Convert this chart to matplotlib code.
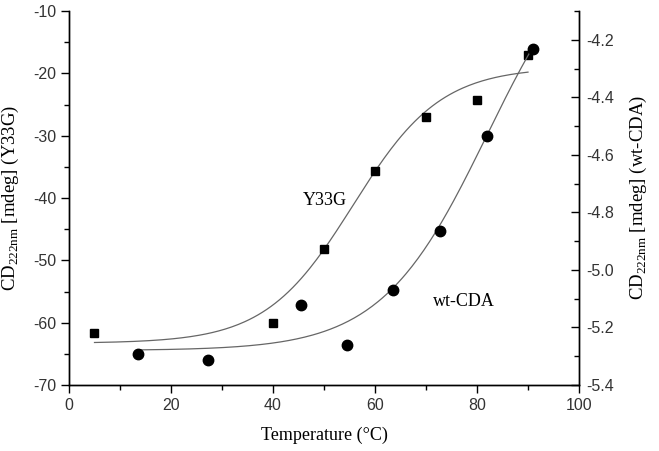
"""Thermal unfolding of Y33G and wt-CDA followed by CD at 222 nm."""

import matplotlib

matplotlib.use("Agg")
import matplotlib.pyplot as plt
import matplotlib.ticker as mticker
import numpy as np

# Y33G (left axis), squares
y33g_temp = [5, 40, 50, 60, 70, 80, 90]
y33g_cd = [-61.7, -60.0, -48.2, -35.7, -27.0, -24.3, -17.1]

# wt-CDA (right axis), circles
wt_temp = [13.5, 27.3, 45.5, 54.5, 63.5, 72.7, 81.9, 91.0]
wt_cd = [-5.293, -5.313, -5.123, -5.261, -5.071, -4.863, -4.533, -4.232]

# Boltzmann fit parameters: A1, A2, x0, dx
y33g_fit = (-63.3, -19.0, 55.7, 8.6)
y33g_fit_range = (5, 90)
wt_fit = (-5.28, -3.78, 82.0, 10.4)
wt_fit_range = (13.5, 91)


def boltzmann(x, a1, a2, x0, dx):
    return a2 + (a1 - a2) / (1 + np.exp((x - x0) / dx))


SERIF = ["Liberation Serif", "DejaVu Serif"]
SANS = ["Liberation Sans", "DejaVu Sans"]

plt.rcParams["axes.unicode_minus"] = False

fig = plt.figure(figsize=(6.59, 4.51), dpi=100)
ax = fig.add_axes([0.1047, 0.1463, 0.7739, 0.8293])
ax2 = ax.twinx()

# fitted curves
xs = np.linspace(*y33g_fit_range, 200)
ax.plot(xs, boltzmann(xs, *y33g_fit), color="#666666", lw=0.9, zorder=2)
xw = np.linspace(*wt_fit_range, 200)
ax2.plot(xw, boltzmann(xw, *wt_fit), color="#666666", lw=0.9, zorder=2)

# measured points
ax.plot(y33g_temp, y33g_cd, "s", color="black", ms=5.5, zorder=3)
ax2.plot(wt_temp, wt_cd, "o", color="black", ms=7.5, zorder=3)

ax.set_xlim(0, 100)
ax.set_ylim(-70, -10)
ax2.set_ylim(-5.4, -4.1)

ax.xaxis.set_major_locator(mticker.MultipleLocator(20))
ax.xaxis.set_minor_locator(mticker.MultipleLocator(10))
ax.yaxis.set_major_locator(mticker.MultipleLocator(10))
ax.yaxis.set_minor_locator(mticker.MultipleLocator(5))
ax2.yaxis.set_major_locator(mticker.MultipleLocator(0.2))
ax2.yaxis.set_minor_locator(mticker.MultipleLocator(0.1))
ax2.yaxis.set_major_formatter(mticker.FormatStrFormatter("%.1f"))

for a in (ax, ax2):
    a.spines["top"].set_visible(False)
    for s in a.spines.values():
        s.set_linewidth(1.0)

ax.tick_params(axis="both", which="major", direction="out", length=6, width=1,
               labelsize=11.5, pad=3)
ax.tick_params(axis="both", which="minor", direction="out", length=3.5, width=1)
ax2.tick_params(axis="y", which="major", direction="in", length=6, width=1,
                labelsize=11.5, pad=5)
ax2.tick_params(axis="y", which="minor", direction="in", length=3.5, width=1)
for lbl in ax.get_xticklabels() + ax.get_yticklabels() + ax2.get_yticklabels():
    lbl.set_family(SANS)
    lbl.set_color("#333333")

ax.set_xlabel("Temperature (°C)", family=SERIF, fontsize=13, labelpad=10)
ax.set_ylabel(r"CD$_{\mathregular{222nm}}$ [mdeg] (Y33G)", family=SERIF,
              fontsize=13.5, labelpad=9)
ax2.set_ylabel(r"CD$_{\mathregular{222nm}}$ [mdeg] (wt-CDA)", family=SERIF,
               fontsize=13.5, labelpad=10)

ax.text(50.1, -40.4, "Y33G", family=SERIF, fontsize=13, ha="center", va="center")
ax.text(77.5, -56.6, "wt-CDA", family=SERIF, fontsize=13, ha="center", va="center")

fig.savefig("out.png", dpi=100)
